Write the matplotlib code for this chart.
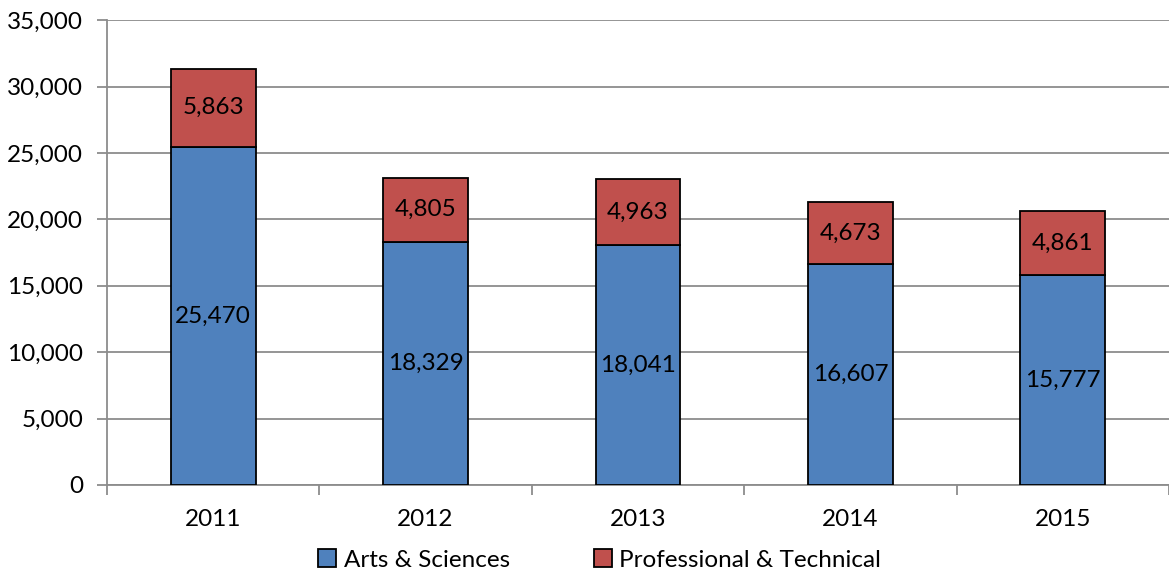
import numpy as np
import matplotlib.pyplot as plt
from matplotlib.ticker import FuncFormatter, FixedLocator

plt.rcParams['font.family'] = ['Lato', 'DejaVu Sans']

years = ['2011', '2012', '2013', '2014', '2015']
arts = [25470, 18329, 18041, 16607, 15777]
prof = [5863, 4805, 4963, 4673, 4861]

blue = '#4F81BD'
red = '#C0504D'
fs = 17.5

fig = plt.figure(figsize=(11.69, 5.76), dpi=100)
ax = fig.add_axes([0.0915, 0.158, 0.9085, 0.807])

x = np.arange(len(years))
w = 0.40
b1 = ax.bar(x, arts, w, color=blue, edgecolor='black', linewidth=1.3, label='Arts & Sciences', zorder=3)
b2 = ax.bar(x, prof, w, bottom=arts, color=red, edgecolor='black', linewidth=1.3, label='Professional & Technical', zorder=3)

for i in range(len(years)):
    ax.text(x[i], arts[i] / 2, f'{arts[i]:,}', ha='center', va='center', fontsize=fs, zorder=4)
    ax.text(x[i], arts[i] + prof[i] / 2, f'{prof[i]:,}', ha='center', va='center', fontsize=fs, zorder=4)

ax.set_xlim(-0.5, 4.5)
ax.set_ylim(0, 35000)
ax.set_yticks(np.arange(0, 35001, 5000))
ax.yaxis.set_major_formatter(FuncFormatter(lambda v, p: f'{int(v):,}'))
ax.grid(axis='y', color='#8C8C8C', linewidth=1.3, zorder=0)

ax.set_xticks(x)
ax.set_xticklabels(years)
ax.tick_params(axis='x', length=0, labelsize=fs, pad=17)
ax.xaxis.set_minor_locator(FixedLocator(np.arange(-0.5, 4.6, 1.0)))
ax.tick_params(axis='x', which='minor', length=7, width=1.3, color='#8C8C8C')
ax.tick_params(axis='y', length=7, width=1.3, color='#8C8C8C', labelsize=fs, pad=10)

for s in ['top', 'right']:
    ax.spines[s].set_visible(False)
for s in ['left', 'bottom']:
    ax.spines[s].set_color('#8C8C8C')
    ax.spines[s].set_linewidth(1.3)

fig.legend(handles=[b1, b2], loc='lower center', bbox_to_anchor=(0.513, -0.029), ncol=2,
           frameon=False, fontsize=fs, handlelength=0.75, handleheight=0.75,
           handletextpad=0.3, columnspacing=3.45)

fig.savefig('out.png', dpi=100)
